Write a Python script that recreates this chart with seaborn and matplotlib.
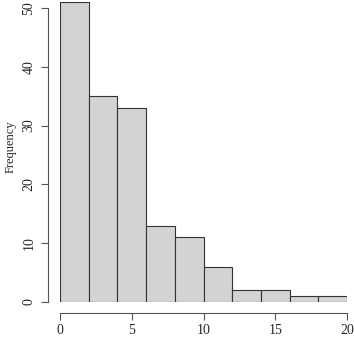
import numpy as np
import pandas as pd
import matplotlib
matplotlib.use("Agg")
import matplotlib.pyplot as plt
import seaborn as sns

# bin edges and counts
bin_edges = [0, 2, 4, 6, 8, 10, 12, 14, 16, 18, 20]
counts = [51, 35, 33, 13, 11, 6, 2, 2, 1, 1]
x_ticks = [0, 5, 10, 15, 20]
y_ticks = [0, 10, 20, 30, 40, 50]

mids = [(bin_edges[i] + bin_edges[i + 1]) / 2 for i in range(len(counts))]
df = pd.DataFrame({"value": mids, "count": counts})

sns.set_style("white")
plt.rcParams['font.family'] = ['Liberation Serif', 'DejaVu Serif']

W, H = 354, 339
fig = plt.figure(figsize=(W / 100, H / 100), dpi=100)
ax = fig.add_axes([60 / W, 37 / H, 287 / W, 300 / H])

sns.histplot(data=df, x="value", weights="count", bins=bin_edges,
             color="#D3D3D3", edgecolor="#333333", linewidth=0.8,
             alpha=1, ax=ax)

ax.set_xlim(0, 20)
ax.set_ylim(0, 51)
for s in ["top", "right"]:
    ax.spines[s].set_visible(False)
ax.spines["left"].set_position(("outward", 8.6))
ax.spines["bottom"].set_position(("outward", 8))
ax.spines["left"].set_bounds(0, 50)
ax.spines["bottom"].set_bounds(0, 20)
for s in ["left", "bottom"]:
    ax.spines[s].set_color("#555555")
    ax.spines[s].set_linewidth(0.8)

ax.set_xticks(x_ticks)
ax.set_yticks(y_ticks)
ax.tick_params(axis="both", length=5, width=0.8, color="#555555",
               labelsize=10, direction="out", left=True, bottom=True)
ax.tick_params(axis="y", pad=4)
ax.tick_params(axis="x", pad=3)
for lab in ax.get_yticklabels():
    lab.set_rotation(90)
    lab.set_va("center")

ax.set_xlabel("")
ax.set_ylabel("Frequency", fontsize=9)
ax.yaxis.set_label_coords(-0.15, 0.517)

fig.savefig("out.png", dpi=100)
